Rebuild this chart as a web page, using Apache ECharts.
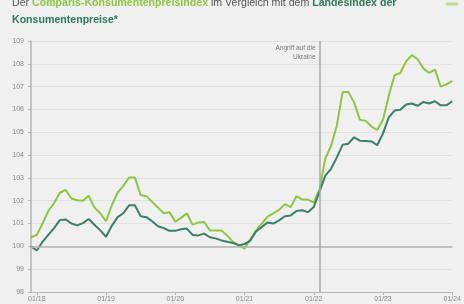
<!DOCTYPE html>
<html><head><meta charset="utf-8">
<script src="https://cdn.jsdelivr.net/npm/echarts@6/dist/echarts.min.js"></script>
<style>html,body{margin:0;padding:0;background:#f0f0f0}#c{width:464px;height:304px}</style>
</head><body><div id="c"></div>
<script>
const months = [];
(function(){ months.push('12/17'); for(let y=18;y<=24;y++){ for(let m=1;m<=12;m++){ if(y===24&&m>1) break; months.push(String(m).padStart(2,'0')+'/'+y); } } })();
const tickLabels = ['01/18','01/19','01/20','01/21','01/22','01/23','01/24'];
const comparisIndex = [100.4,100.5,101.0,101.55,101.9,102.35,102.48,102.1,102.02,102.0,102.22,101.7,101.45,101.1,101.8,102.35,102.65,103.02,103.02,102.25,102.2,101.95,101.7,101.45,101.5,101.08,101.25,101.45,100.95,101.05,101.07,100.7,100.7,100.7,100.48,100.2,100.05,99.9,100.3,100.7,101.0,101.3,101.45,101.6,101.85,101.72,102.2,102.05,102.05,101.92,102.5,103.85,104.4,105.3,106.77,106.77,106.3,105.55,105.5,105.25,105.1,105.55,106.6,107.5,107.6,108.1,108.38,108.2,107.8,107.6,107.75,107.0,107.1,107.25];
const landesIndex = [100.0,99.82,100.2,100.5,100.8,101.15,101.18,101.0,100.92,101.02,101.2,100.95,100.7,100.42,100.9,101.28,101.45,101.8,101.8,101.32,101.28,101.1,100.88,100.8,100.68,100.68,100.75,100.78,100.5,100.48,100.56,100.4,100.35,100.26,100.2,100.15,100.04,100.1,100.25,100.65,100.85,101.05,101.0,101.14,101.32,101.35,101.55,101.58,101.5,101.72,102.4,103.1,103.4,103.9,104.45,104.5,104.78,104.63,104.62,104.6,104.43,104.95,105.65,105.95,105.99,106.22,106.26,106.16,106.33,106.26,106.36,106.18,106.18,106.36];
const eventMonth = '02/22';
const eventLabel = 'Angriff auf die\nUkraine';

const FF = 'Liberation Sans, Arial, sans-serif';
const chart = echarts.init(document.getElementById('c'), null, {renderer:'canvas'});
const option = {
  backgroundColor:'#f0f0f0',
  animation:false,
  title:{
    left:7, top:-10.5,
    text:'Der {g|Comparis-Konsumentenpreisindex} im Vergleich mit dem {d|Landesindex der}\n{d|Konsumentenpreise*}',
    textStyle:{fontFamily:FF,fontSize:10.6,fontWeight:'normal',color:'#555',lineHeight:17,
      rich:{g:{color:'#8dc63f',fontWeight:'bold',fontSize:10.6,fontFamily:FF,lineHeight:17},
            d:{color:'#2b7a58',fontWeight:'bold',fontSize:10.6,fontFamily:FF,lineHeight:17}}}
  },
  grid:{left:31,right:10,top:41,bottom:12,containLabel:false},
  xAxis:{
    type:'category', data:months, boundaryGap:false,
    axisLine:{show:true,lineStyle:{color:'#b5b5b5',width:1}},
    axisTick:{show:true,length:3,lineStyle:{color:'#b5b5b5'},interval:function(i){return i%12===1;}},
    axisLabel:{interval:function(i){return i%12===1;},color:'#888',fontSize:7,margin:4,fontFamily:FF,
      formatter:function(v,i){return tickLabels[(i-1)/12]||'';}},
    splitLine:{show:false}
  },
  yAxis:{
    type:'value', min:98, max:109, interval:1,
    axisLine:{show:true,lineStyle:{color:'#b5b5b5',width:1.5}},
    axisTick:{show:true,length:3,lineStyle:{color:'#b5b5b5'}},
    axisLabel:{color:'#888',fontSize:7,margin:7,fontFamily:FF},
    splitLine:{show:true,lineStyle:{color:'#e1e1e1',width:1}}
  },
  series:[
    {type:'line',name:'Comparis',data:comparisIndex,showSymbol:false,symbol:'none',lineStyle:{color:'#8dc63f',width:2},itemStyle:{color:'#8dc63f'},z:3},
    {type:'line',name:'Landesindex',data:landesIndex,showSymbol:false,symbol:'none',lineStyle:{color:'#3b7f6a',width:2},itemStyle:{color:'#3b7f6a'},z:4,
     markLine:{silent:true,symbol:'none',label:{show:false},
       data:[{yAxis:100,lineStyle:{color:'#b3b3b3',width:1.5,type:'solid'}},
             {xAxis:eventMonth,lineStyle:{color:'#a8a8a8',width:1.5,type:'solid'}}]}}
  ]
};
chart.setOption(option);
const p = chart.convertToPixel({xAxisIndex:0,yAxisIndex:0},[eventMonth,109]);
chart.setOption({graphic:[
  {type:'text',x:p[0]-4,y:p[1]+3,style:{text:eventLabel,align:'right',verticalAlign:'top',fill:'#777',fontSize:6.5,lineHeight:9,fontFamily:FF}},
  {type:'line',shape:{x1:446,y1:4,x2:458,y2:4},style:{stroke:'#b9dd8c',lineWidth:3}}
]});
</script></body></html>
